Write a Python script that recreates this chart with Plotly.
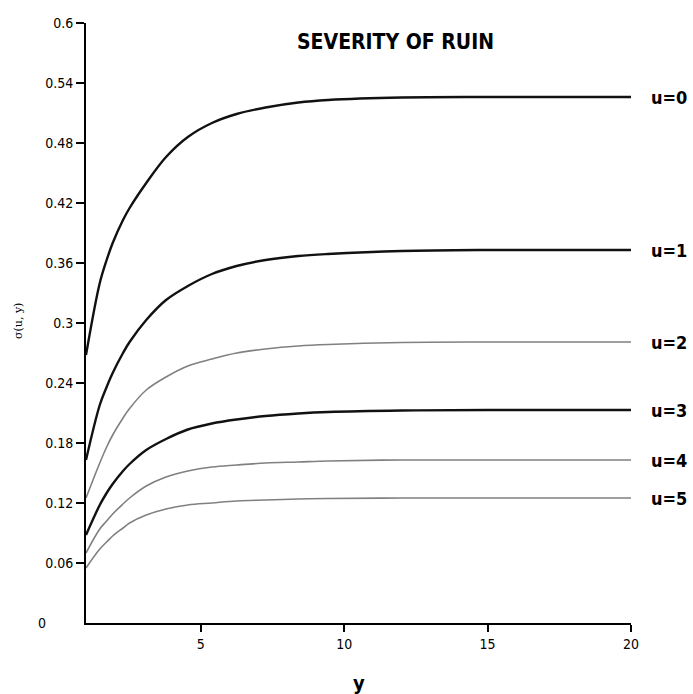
import plotly.graph_objects as go

# ---- data ----
x_vals = [1.0, 1.48, 1.72, 1.93, 2.29, 2.52, 3.1, 3.79, 4.55, 5.39, 6.25, 7.26, 8.4, 9.44, 12.0, 15.0, 20.0]

u0 = [0.268, 0.340, 0.363, 0.380, 0.403, 0.415, 0.440, 0.466, 0.486, 0.500, 0.509, 0.5155, 0.5205, 0.523, 0.5255, 0.526, 0.526]
u1 = [0.163, 0.218, 0.236, 0.250, 0.270, 0.281, 0.303, 0.323, 0.337, 0.349, 0.357, 0.363, 0.367, 0.369, 0.372, 0.373, 0.373]
u2 = [0.125, 0.160, 0.176, 0.188, 0.205, 0.2145, 0.233, 0.246, 0.257, 0.264, 0.270, 0.274, 0.277, 0.2785, 0.2805, 0.281, 0.281]
u3 = [0.088, 0.118, 0.130, 0.139, 0.152, 0.159, 0.173, 0.184, 0.1935, 0.1995, 0.2035, 0.207, 0.2095, 0.211, 0.2125, 0.213, 0.213]
u4 = [0.070, 0.094, 0.102, 0.109, 0.119, 0.125, 0.137, 0.146, 0.152, 0.156, 0.158, 0.160, 0.161, 0.162, 0.163, 0.163, 0.163]
u5 = [0.055, 0.074, 0.081, 0.087, 0.095, 0.100, 0.108, 0.114, 0.118, 0.120, 0.122, 0.123, 0.124, 0.1245, 0.125, 0.125, 0.125]

series = [("u=0", u0), ("u=1", u1), ("u=2", u2), ("u=3", u3), ("u=4", u4), ("u=5", u5)]

y_ticks = [0.06, 0.12, 0.18, 0.24, 0.3, 0.36, 0.42, 0.48, 0.54, 0.6]
y_ticktext = ["0.06", "0.12", "0.18", "0.24", "0.3", "0.36", "0.42", "0.48", "0.54", "0.6"]
x_ticks = [5, 10, 15, 20]

title_text = "SEVERITY OF RUIN"
x_title = "y"
y_title = "σ(u, y)"

NARROW = "Liberation Sans Narrow, Arial Narrow, DejaVu Sans Condensed, DejaVu Sans, sans-serif"

styles = {
    "u=0": dict(color="#111111", width=2.4),
    "u=1": dict(color="#111111", width=2.4),
    "u=2": dict(color="#808080", width=1.6),
    "u=3": dict(color="#111111", width=2.4),
    "u=4": dict(color="#808080", width=1.6),
    "u=5": dict(color="#808080", width=1.6),
}

# plot area in page pixels: x 86..631, y 23..623
L, R, T, B = 86, 631, 23, 623
PW, PH = R - L, B - T

def px(xp):
    return (xp - L) / PW

def py(yp):
    return (B - yp) / PH

fig = go.Figure()
for name, vals in series:
    fig.add_trace(go.Scatter(
        x=x_vals, y=vals, mode="lines", name=name,
        line=dict(shape="spline", smoothing=1.0, **styles[name]),
        showlegend=False, hoverinfo="skip",
    ))

annotations = []
for name, vals in series:
    annotations.append(dict(
        x=x_vals[-1], y=vals[-1], xref="x", yref="y",
        text="<b>%s</b>" % name, showarrow=False,
        xanchor="left", yanchor="middle", xshift=18,
        font=dict(family=NARROW, size=18, color="#000000"),
    ))

annotations.append(dict(
    x=px(395), y=py(42), xref="paper", yref="paper", text="<b>%s</b>" % title_text,
    showarrow=False, xanchor="center", yanchor="middle",
    font=dict(family=NARROW, size=21, color="#000000"),
))
annotations.append(dict(
    x=px(42), y=0, xref="paper", yref="paper", text="0",
    showarrow=False, xanchor="center", yanchor="middle",
    font=dict(family=NARROW, size=14, color="#000000"),
))
annotations.append(dict(
    x=px(18), y=py(321), xref="paper", yref="paper",
    text=y_title, textangle=-90, showarrow=False,
    xanchor="center", yanchor="middle",
    font=dict(family="DejaVu Serif, serif", size=11, color="#000000"),
))
annotations.append(dict(
    x=0.5, y=py(683), xref="paper", yref="paper",
    text="<b>%s</b>" % x_title, showarrow=False,
    xanchor="center", yanchor="middle",
    font=dict(family=NARROW, size=20, color="#000000"),
))

fig.update_layout(
    width=693, height=694,
    margin=dict(l=L, r=693 - R, t=T, b=694 - B),
    paper_bgcolor="white", plot_bgcolor="white",
    annotations=annotations,
    xaxis=dict(
        range=[1, 20], tickvals=x_ticks, ticktext=[str(v) for v in x_ticks],
        showgrid=False, zeroline=False, showline=True, linecolor="#000000", linewidth=2,
        ticks="outside", ticklen=7, tickwidth=2, tickcolor="#000000",
        tickfont=dict(family=NARROW, size=14, color="#000000"),
    ),
    yaxis=dict(
        range=[0, 0.6], tickvals=y_ticks, ticktext=y_ticktext,
        showgrid=False, zeroline=False, showline=True, linecolor="#000000", linewidth=2,
        ticks="outside", ticklen=8, tickwidth=2, tickcolor="#000000",
        tickfont=dict(family=NARROW, size=14, color="#000000"),
    ),
)

fig.write_html("out.html", config={"displayModeBar": False},
               post_script="document.body.style.margin='0';")
